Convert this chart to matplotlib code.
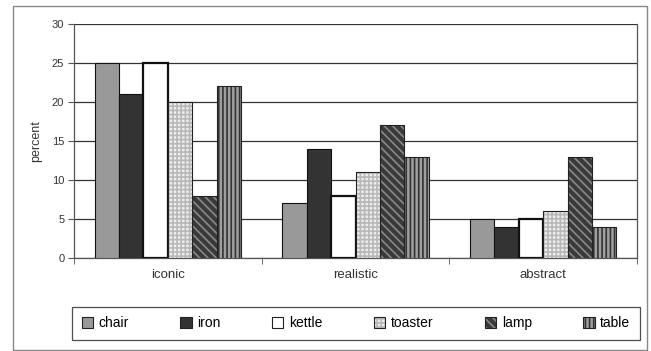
import matplotlib
matplotlib.use("Agg")
import matplotlib.pyplot as plt
from matplotlib.patches import Rectangle, Patch
from matplotlib.legend_handler import HandlerTuple
import numpy as np

plt.rcParams['font.family'] = ['Liberation Sans', 'DejaVu Sans']
plt.rcParams['hatch.linewidth'] = 1.2

# data
categories = ['iconic', 'realistic', 'abstract']
objects = ['chair', 'iron', 'kettle', 'toaster', 'lamp', 'table']
chair = [25, 7, 5]
iron = [21, 14, 4]
kettle = [25, 8, 5]
toaster = [20, 11, 6]
lamp = [8, 17, 13]
table = [22, 13, 4]
series = [chair, iron, kettle, toaster, lamp, table]

# face, hatch, hatch colour, edge width
styles = [
    ('#999999', None, None, 0.8),
    ('#333333', None, None, 0.8),
    ('#ffffff', None, None, 1.6),
    ('#eeeeee', '++++', '#b8b8b8', 0.0),
    ('#3a3a3a', '\\\\\\\\', '#8a8a8a', 0.8),
    ('#a0a0a0', '||||', '#333333', 0.8),
]

fig = plt.figure(figsize=(6.51, 3.51), dpi=100)
ax = fig.add_axes([74/651, 1-258/351, 563/651, 234/351])

x = np.arange(len(categories))
w = 0.13
for i, (vals, st) in enumerate(zip(series, styles)):
    face, hatch, hcol, lw = st
    pos = x + (i - 2.5) * w
    if hatch:
        ax.bar(pos, vals, w, color=face, hatch=hatch, edgecolor=hcol, linewidth=0, zorder=3)
        ax.bar(pos, vals, w, fill=False, edgecolor='#222222', linewidth=0.8, zorder=4)
    else:
        ax.bar(pos, vals, w, color=face, edgecolor='#111111', linewidth=lw, zorder=3)

ax.set_xlim(-0.5, 2.5)
ax.set_ylim(0, 30)
ax.set_yticks(range(0, 31, 5))
ax.yaxis.grid(True, color='#333333', linewidth=0.9, zorder=0)
ax.set_xticks(x)
ax.set_xticklabels(categories, fontsize=9.5, color='#333333')
ax.tick_params(axis='x', length=0, pad=8)
ax.set_xticks([-0.5, 0.5, 1.5, 2.5], minor=True)
ax.tick_params(axis='x', which='minor', length=4, color='#555555')
ax.tick_params(axis='y', length=4, labelsize=8, labelcolor='#333333', color='#555555', pad=3)
ax.set_ylabel('percent', fontsize=9, color='#333333', labelpad=7)
for s in ['left', 'bottom', 'right']:
    ax.spines[s].set_color('#555555')
    ax.spines[s].set_linewidth(0.9)
ax.spines['top'].set_visible(False)

handles = []
for st in styles:
    face, hatch, hcol, lw = st
    if hatch:
        handles.append((Patch(facecolor=face, edgecolor=hcol, hatch=hatch, linewidth=0),
                        Patch(fill=False, edgecolor='#222222', linewidth=0.8)))
    else:
        handles.append(Patch(facecolor=face, edgecolor='#222222', linewidth=0.8))
leg = fig.legend(handles, objects, loc='lower left', ncol=6, mode='expand',
                 bbox_to_anchor=(72/651, 1-340/351, 568/651, 33/351),
                 fontsize=10, frameon=True, fancybox=False, edgecolor='#222222',
                 handlelength=0.8, handleheight=0.8, handletextpad=0.4,
                 borderaxespad=0, borderpad=0.7,
                 handler_map={tuple: HandlerTuple(ndivide=1, pad=0)})
leg.get_frame().set_linewidth(0.9)

# outer chart frame
fig.patches.append(Rectangle((13/651, 1/351), 634/651, 344/351, transform=fig.transFigure,
                             fill=False, edgecolor='#888888', linewidth=1.0))

fig.savefig('out.png', dpi=100)
